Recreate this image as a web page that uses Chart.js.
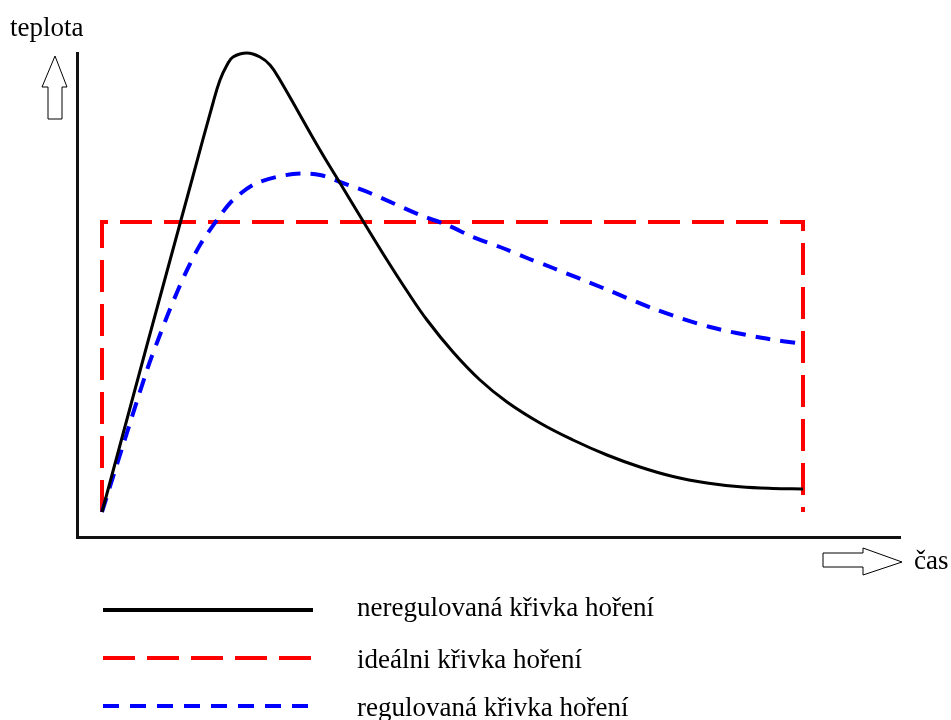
<!DOCTYPE html>
<html>
<head>
<meta charset="utf-8">
<script src="https://cdn.jsdelivr.net/npm/chart.js@4/dist/chart.umd.min.js"></script>
<style>
  html, body { margin: 0; padding: 0; background: #fff; }
  #wrap { position: relative; width: 951px; height: 720px; }
</style>
</head>
<body>
<div id="wrap"><canvas id="c"></canvas></div>
<script>
// ── data (time vs. temperature, arbitrary units) ──
const timeFree = [0, 4.5, 9.1, 11.1, 11.8, 12.5, 13.1, 14.5, 15.8, 16.8, 17.8, 21.8, 23.8, 26.1, 28.5, 30.5, 32.5, 35.1, 37.8, 40.5, 43.8, 47.1, 50.5, 53.8, 57.1, 60.5, 63.8, 67.1, 70.1];
const tempFree = [0, 16.7, 33.6, 40.9, 43.2, 44.7, 45.5, 45.9, 45.5, 44.7, 43.2, 36.2, 32.9, 29.1, 25.2, 22.1, 19.2, 16.0, 13.2, 11.0, 8.9, 7.2, 5.7, 4.5, 3.55, 2.9, 2.52, 2.35, 2.3];

const timeIdeal = [0, 0, 70.1, 70.1];
const tempIdeal = [0, 29, 29, 0];

const timeCtrl = [0, 2.3, 4.6, 5.6, 6.6, 7.6, 8.6, 9.8, 11.5, 13.1, 15.5, 19.1, 21.8, 23.8, 26.8, 31.8, 34.5, 37.1, 39.8, 42.5, 45.1, 50.1, 55.5, 60.8, 66.1, 70.1];
const tempCtrl = [0, 7.3, 14.5, 17.2, 19.8, 22.2, 24.4, 26.7, 29.2, 31.2, 32.9, 33.8, 33.7, 33.0, 31.9, 29.7, 28.7, 27.5, 26.5, 25.4, 24.4, 22.4, 20.2, 18.5, 17.4, 16.8];

const seriesNames = ['neregulovaná křivka hoření', 'ideálni křivka hoření', 'regulovaná křivka hoření'];
const axisNames = ['teplota', 'čas'];

const pts = (xs, ys) => xs.map((x, i) => ({ x, y: ys[i] }));

const FONT = '27px "Liberation Serif", "Times New Roman", serif';

// arrows, axis names and the legend block under the plot
const decor = {
  id: 'decor',
  afterDraw(chart) {
    const ctx = chart.ctx;
    ctx.save();
    // up arrow (temperature)
    ctx.strokeStyle = '#000';
    ctx.lineWidth = 1;
    ctx.beginPath();
    ctx.moveTo(55, 56); ctx.lineTo(67, 87); ctx.lineTo(62, 87); ctx.lineTo(62, 119);
    ctx.lineTo(48, 119); ctx.lineTo(48, 87); ctx.lineTo(42, 87); ctx.closePath();
    ctx.stroke();
    // right arrow (time)
    ctx.beginPath();
    ctx.moveTo(902, 562); ctx.lineTo(863, 575); ctx.lineTo(863, 567); ctx.lineTo(823, 567);
    ctx.lineTo(823, 553); ctx.lineTo(863, 553); ctx.lineTo(863, 548); ctx.closePath();
    ctx.stroke();

    ctx.fillStyle = '#000';
    ctx.font = FONT;
    ctx.textBaseline = 'alphabetic';
    ctx.fillText(axisNames[0], 10, 36);
    ctx.fillText(axisNames[1], 914, 569);

    // legend
    const ds = chart.data.datasets;
    const rows = [610, 658, 706];
    const textY = [616, 668, 716];
    ds.forEach((d, i) => {
      ctx.beginPath();
      ctx.strokeStyle = d.borderColor;
      ctx.lineWidth = 4;
      ctx.setLineDash(d.legendDash || []);
      ctx.moveTo(103, rows[i]);
      ctx.lineTo(313, rows[i]);
      ctx.stroke();
      ctx.setLineDash([]);
      ctx.fillText(seriesNames[i], 357, textY[i]);
    });
    ctx.restore();
  }
};

new Chart(document.getElementById('c'), {
  type: 'line',
  data: {
    datasets: [
      {
        label: seriesNames[0],
        data: pts(timeFree, tempFree),
        borderColor: '#000000',
        borderWidth: 3,
        tension: 0.4,
        pointRadius: 0,
        clip: false,
        order: 0,
        legendDash: []
      },
      {
        label: seriesNames[1],
        data: pts(timeIdeal, tempIdeal),
        borderColor: '#ff0000',
        borderWidth: 4,
        borderDash: [32, 12],
        tension: 0,
        pointRadius: 0,
        clip: false,
        order: 2,
        legendDash: [32, 12]
      },
      {
        label: seriesNames[2],
        data: pts(timeCtrl, tempCtrl),
        borderColor: '#0000ff',
        borderWidth: 4,
        borderDash: [15, 10],
        tension: 0.3,
        pointRadius: 0,
        clip: false,
        order: 1,
        legendDash: [16, 11]
      }
    ]
  },
  options: {
    responsive: true,
    maintainAspectRatio: false,
    animation: false,
    layout: { padding: { left: 77, right: 51, top: 53, bottom: 183 } },
    scales: {
      x: {
        type: 'linear', min: -2.5, max: 79.8,
        ticks: { display: false },
        grid: { display: false, drawTicks: false },
        border: { display: true, color: '#111', width: 3 }
      },
      y: {
        type: 'linear', min: -2.5, max: 45.9,
        ticks: { display: false },
        grid: { display: false, drawTicks: false },
        border: { display: true, color: '#111', width: 3 }
      }
    },
    plugins: {
      legend: { display: false },
      tooltip: { enabled: false }
    }
  },
  plugins: [decor]
});
</script>
</body>
</html>
